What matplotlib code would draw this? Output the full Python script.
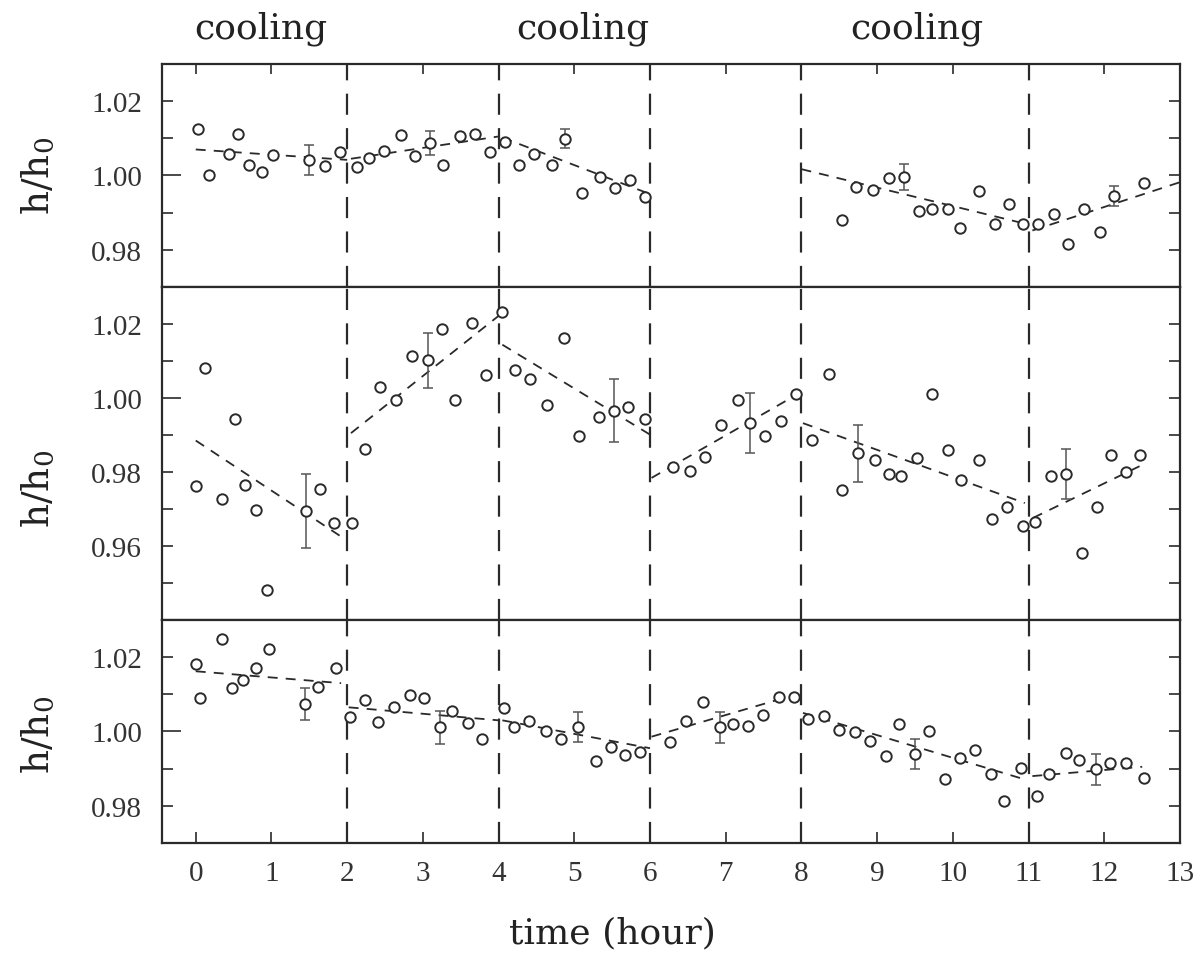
import numpy as np
import matplotlib
matplotlib.use("Agg")
import matplotlib.pyplot as plt
import matplotlib.transforms as mtransforms

plt.rcParams['mathtext.default'] = 'regular'
plt.rcParams['mathtext.fontset'] = 'dejavuserif'

# ---------------- data ----------------
# top panel
t_top = [0.03, 0.17, 0.44, 0.56, 0.71, 0.87, 1.02, 1.49, 1.71, 1.91, 2.13, 2.29, 2.49, 2.71, 2.90,
         3.10, 3.27, 3.49, 3.69, 3.88, 4.08, 4.27, 4.47, 4.70, 4.88, 5.10, 5.34, 5.54, 5.74, 5.93,
         8.54, 8.72, 8.94, 9.16, 9.35, 9.55, 9.72, 9.93, 10.10, 10.34, 10.55, 10.74, 10.93, 11.13,
         11.33, 11.52, 11.73, 11.94, 12.13, 12.52]
h_top = [1.0126, 1.0002, 1.0059, 1.0111, 1.0027, 1.0009, 1.0056, 1.0041, 1.0025, 1.0063, 1.0023,
         1.0047, 1.0066, 1.0108, 1.0052, 1.0088, 1.0029, 1.0105, 1.0112, 1.0063, 1.0090, 1.0029,
         1.0059, 1.0029, 1.0099, 0.9953, 0.9996, 0.9966, 0.9989, 0.9941,
         0.9881, 0.9968, 0.9960, 0.9994, 0.9996, 0.9905, 0.9911, 0.9911, 0.9860, 0.9958, 0.9869,
         0.9924, 0.9869, 0.9869, 0.9897, 0.9815, 0.9911, 0.9849, 0.9946, 0.9980]
err_t_top = [1.49, 3.10, 4.88, 9.35, 12.13]
err_h_top = [1.0041, 1.0088, 1.0099, 0.9996, 0.9946]
err_top = [0.0040, 0.0032, 0.0026, 0.0035, 0.0027]
# fitted segments: (t start, t end, h start, h end)
fit_top = [(0.0, 2.0, 1.0070, 1.0042), (2.05, 4.0, 1.0045, 1.0105), (4.05, 6.0, 1.0102, 0.9950),
           (8.0, 11.0, 1.0017, 0.9868), (11.05, 13.0, 0.9852, 0.9982)]

# middle panel
t_mid = [0.0, 0.12, 0.35, 0.52, 0.65, 0.80, 0.94, 1.46, 1.64, 1.82, 2.06, 2.23, 2.44, 2.64, 2.86,
         3.07, 3.25, 3.43, 3.65, 3.83, 4.04, 4.22, 4.42, 4.64, 4.86, 5.06, 5.32, 5.53, 5.71, 5.93,
         6.31, 6.53, 6.73, 6.94, 7.16, 7.32, 7.52, 7.73, 7.93, 8.14, 8.36, 8.54, 8.75, 8.97, 9.15,
         9.32, 9.53, 9.73, 9.93, 10.11, 10.34, 10.52, 10.71, 10.92, 11.09, 11.30, 11.49, 11.70,
         11.90, 12.09, 12.28, 12.47]
h_mid = [0.9761, 1.0080, 0.9728, 0.9944, 0.9764, 0.9698, 0.9481, 0.9694, 0.9754, 0.9662, 0.9662,
         0.9863, 1.0030, 0.9995, 1.0113, 1.0102, 1.0187, 0.9995, 1.0204, 1.0063, 1.0232, 1.0077,
         1.0050, 0.9980, 1.0162, 0.9896, 0.9949, 0.9966, 0.9975, 0.9943,
         0.9813, 0.9802, 0.9841, 0.9928, 0.9994, 0.9932, 0.9896, 0.9937, 1.0012, 0.9887, 1.0065,
         0.9750, 0.9851, 0.9833, 0.9795, 0.9788, 0.9838, 1.0010, 0.9859, 0.9777, 0.9832, 0.9673,
         0.9705, 0.9653, 0.9665, 0.9790, 0.9795, 0.9581, 0.9705, 0.9847, 0.9799, 0.9847]
err_t_mid = [1.46, 3.07, 5.53, 7.32, 8.75, 11.49]
err_h_mid = [0.9694, 1.0102, 0.9966, 0.9932, 0.9851, 0.9795]
err_mid = [0.0100, 0.0074, 0.0086, 0.0081, 0.0077, 0.0068]
fit_mid = [(0.0, 1.9, 0.9885, 0.9628), (2.05, 4.0, 0.9905, 1.0222), (4.05, 6.0, 1.0144, 0.9901),
           (6.02, 7.98, 0.9784, 1.0014), (8.02, 10.95, 0.9932, 0.9716), (11.06, 12.55, 0.9676, 0.9824)]

# bottom panel
t_bot = [0.0, 0.06, 0.35, 0.48, 0.62, 0.79, 0.97, 1.44, 1.62, 1.85, 2.04, 2.23, 2.41, 2.62, 2.83,
         3.01, 3.22, 3.39, 3.60, 3.78, 4.07, 4.20, 4.40, 4.63, 4.83, 5.05, 5.28, 5.49, 5.67, 5.87,
         6.26, 6.48, 6.70, 6.93, 7.10, 7.29, 7.49, 7.71, 7.90, 8.09, 8.30, 8.49, 8.71, 8.91, 9.11,
         9.29, 9.50, 9.69, 9.89, 10.09, 10.29, 10.50, 10.68, 10.90, 11.11, 11.27, 11.49, 11.67,
         11.89, 12.08, 12.29, 12.52]
h_bot = [1.0181, 1.0089, 1.0248, 1.0117, 1.0139, 1.0170, 1.0223, 1.0074, 1.0120, 1.0170, 1.0040,
         1.0084, 1.0026, 1.0067, 1.0099, 1.0090, 1.0011, 1.0054, 1.0024, 0.9979, 1.0063, 1.0013,
         1.0027, 1.0000, 0.9979, 1.0013, 0.9921, 0.9957, 0.9936, 0.9946,
         0.9971, 1.0027, 1.0078, 1.0011, 1.0020, 1.0014, 1.0045, 1.0092, 1.0092, 1.0033, 1.0041,
         1.0005, 0.9998, 0.9975, 0.9934, 1.0020, 0.9939, 1.0000, 0.9871, 0.9930, 0.9950, 0.9886,
         0.9813, 0.9903, 0.9827, 0.9885, 0.9943, 0.9923, 0.9898, 0.9916, 0.9916, 0.9874]
err_t_bot = [1.44, 3.22, 5.05, 6.93, 9.50, 11.89]
err_h_bot = [1.0074, 1.0011, 1.0013, 1.0011, 0.9939, 0.9898]
err_bot = [0.0044, 0.0044, 0.0040, 0.0042, 0.0041, 0.0042]
fit_bot = [(0.0, 1.92, 1.0162, 1.0130), (2.02, 4.0, 1.0065, 1.0030), (4.05, 6.0, 1.0030, 0.9955),
           (6.02, 7.92, 0.9986, 1.0099), (8.02, 10.95, 1.0050, 0.9871), (11.05, 12.5, 0.9880, 0.9905)]

switch_times = [2, 4, 6, 8, 11]
cooling_pos = [0.86, 5.11, 9.52]
hours = list(range(14))

# ---------------- figure ----------------
ink = '#2a2a2a'
fig = plt.figure(figsize=(11.94, 9.54), dpi=100)
left, width = 0.1354, 0.8529
ax_top = fig.add_axes([left, 0.6981, width, 0.2338])
ax_mid = fig.add_axes([left, 0.3491, width, 0.3490])
ax_bot = fig.add_axes([left, 0.1153, width, 0.2338])

panels = [
    (ax_top, t_top, h_top, err_t_top, err_h_top, err_top, fit_top, (0.97, 1.03),
     [0.98, 1.00, 1.02], [0.99, 1.01]),
    (ax_mid, t_mid, h_mid, err_t_mid, err_h_mid, err_mid, fit_mid, (0.94, 1.03),
     [0.96, 0.98, 1.00, 1.02], [0.95, 0.97, 0.99, 1.01]),
    (ax_bot, t_bot, h_bot, err_t_bot, err_h_bot, err_bot, fit_bot, (0.97, 1.03),
     [0.98, 1.00, 1.02], [0.99, 1.01]),
]

tick_font = dict(family='Liberation Serif', size=21)

for ax, t, h, et, eh, ee, fits, ylim, majors, minors in panels:
    for v in switch_times:
        ax.axvline(v, color=ink, lw=1.6, ls=(0, (9.5, 6)), zorder=1)
    for t0, t1, h0, h1 in fits:
        ax.plot([t0, t1], [h0, h1], color=ink, lw=1.3, ls=(0, (5.5, 4.5)), zorder=2)
    ax.errorbar(et, eh, yerr=ee, fmt='none', ecolor='#555555', elinewidth=1.1,
                capsize=3.5, capthick=1.1, zorder=3)
    ax.plot(t, h, 'o', ms=7.5, mfc='white', mec=ink, mew=1.4, ls='none', zorder=4)

    ax.set_xlim(-0.45, 13)
    ax.set_ylim(*ylim)
    ax.set_xticks(hours)
    ax.set_yticks(majors)
    ax.set_yticks(minors, minor=True)
    ax.set_yticklabels([f'{m:.2f}' for m in majors], **tick_font)
    ax.tick_params(axis='y', which='both', direction='in', left=True, right=True,
                   length=8, width=1.2, color=ink, pad=14, labelcolor='#333')
    ax.tick_params(axis='x', which='both', direction='in', bottom=False, top=False,
                   labelbottom=False, length=8, width=1.2, color=ink)
    for s in ax.spines.values():
        s.set_linewidth(1.6)
        s.set_color(ink)

ax_top.tick_params(axis='x', top=True, length=7)
ax_bot.tick_params(axis='x', bottom=True, labelbottom=True, pad=12, labelcolor='#333')
ax_bot.set_xticklabels([str(x) for x in hours], **tick_font)

# labels
label_font = dict(family='DejaVu Serif', color='#222')
trans = mtransforms.blended_transform_factory(ax_top.transData, fig.transFigure)
for xc in cooling_pos:
    fig.text(xc, 1 - 38 / 954, 'cooling', transform=trans, ha='center', va='baseline',
             fontsize=26, **label_font)

fig.text(612 / 1194, 1 - 943 / 954, 'time (hour)', ha='center', va='baseline',
         fontsize=26, **label_font)

for yc in [1 - 176 / 954, 1 - 489 / 954, 1 - 735 / 954]:
    fig.text(39 / 1194, yc, r'h/h$_0$', rotation=90, ha='center', va='center',
             fontsize=27, **label_font)

# the 1.00 tick on the left is drawn longer in the original
fig.canvas.draw()
for ax in (ax_top, ax_mid, ax_bot):
    for tk in ax.yaxis.get_major_ticks():
        if abs(tk.get_loc() - 1.0) < 1e-9:
            tk.tick1line.set_markersize(14)

fig.savefig('out.png', dpi=100)
